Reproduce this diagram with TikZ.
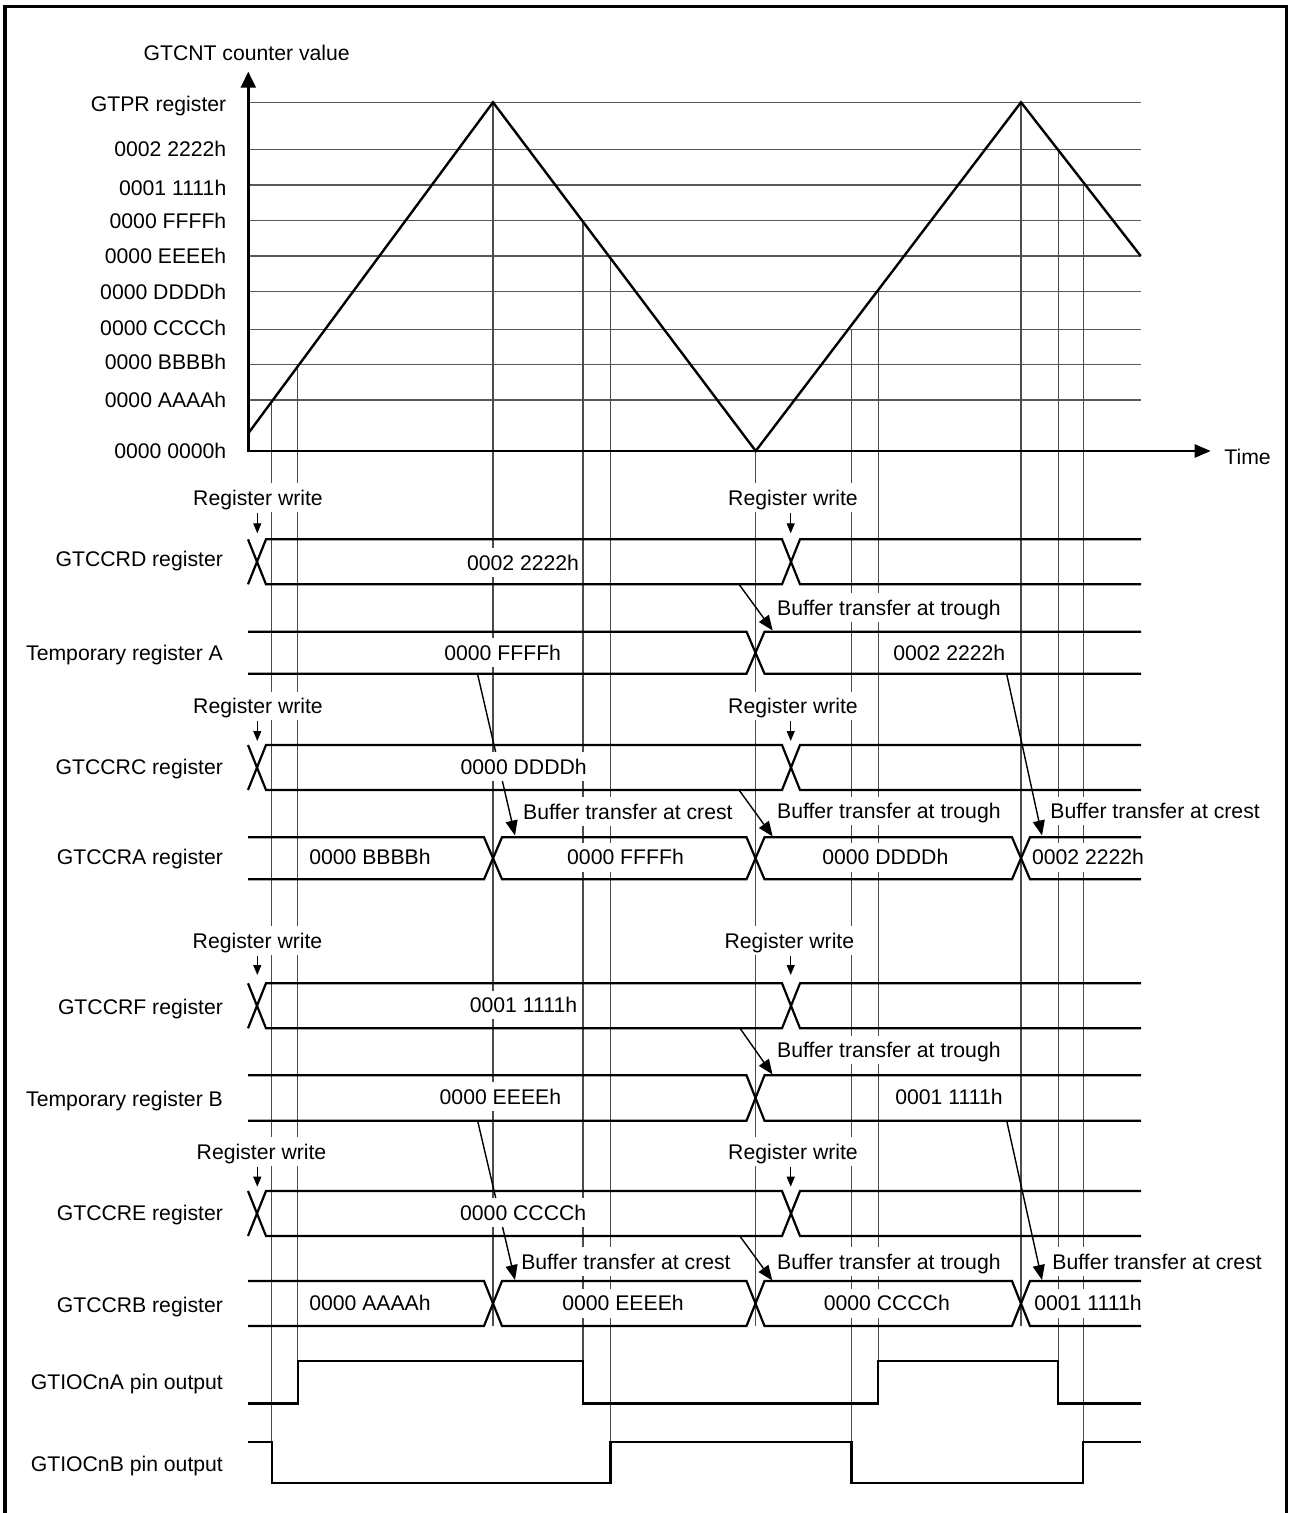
\documentclass[tikz,border=0pt]{standalone}
\usepackage{fontspec}
\setmainfont{Liberation Sans}
\usetikzlibrary{arrows.meta}
\tikzset{
  gridline/.style={line width=0.6pt,black!65},
  guide/.style={line width=0.6pt,black!70},
  wave/.style={line width=1.2pt,black},
  bus/.style={line width=1.1pt,black},
  pinsig/.style={line width=1.1pt,black},
  cntaxis/.style={line width=1.2pt,black},
  xfer/.style={-{Triangle[length=7.5pt,width=6pt]},line width=0.7pt},
  wrarr/.style={-{Triangle[length=5pt,width=4pt]},line width=0.65pt},
  txt/.style={font=\fontsize{10.6}{12.7}\selectfont,text height=9.5pt,text depth=1.9pt,inner sep=1.5pt},
  val/.style={txt,fill=white},
  lbl/.style={txt,anchor=east,inner sep=0pt}
}

\begin{document}
\begin{tikzpicture}[x=0.5pt,y=-0.5pt]
\useasboundingbox (0,0) rectangle (1290,1513);
% frame, open at the bottom
\draw[line width=1.75pt] (5,1513) -- (5,6.7) -- (1286.7,6.7) -- (1286.7,1513);

% counter levels
\foreach \y in {102.3,149.7,185,220.7,256,291.3,329.3,364.7,400}
  \draw[gridline] (248.3,\y) -- (1140.7,\y);
\foreach \y/\t [count=\i] in {104.2/GTPR register,149.2/0002 2222h,188/0001 1111h,
    220.8/0000 FFFFh,255.8/0000 EEEEh,291.8/0000 DDDDh,327.5/0000 CCCCh,
    361.8/0000 BBBBh,400/0000 AAAAh,450.8/0000 0000h}
  \node[lbl] (lv\i) at (226.7,\y) {\t};

% compare match guides
\foreach \x/\ya/\yb in {271.7/400/1483.3,297.7/364.7/1403.5,493/102.3/1326,
    583/220.7/1403.5,610.5/256/1483.3,755.7/451/1326,851.5/329.3/1483.3,
    878.3/291.3/1403.5,1021/102.3/1326,1058.3/149.7/1403.5,1083.3/185/1483.3}
  \draw[guide] (\x,\ya) -- (\x,\yb);

% axes and counter
\draw[cntaxis,{Triangle[length=8pt,width=7.5pt]}-{Triangle[length=8pt,width=6.5pt]}]
  (248.3,71.7) -- (248.3,451) -- (1210.7,451);
\draw[wave] (248.3,433.3) -- (493,102.3) -- (755.7,451) -- (1021,102.3) -- (1140.7,256);
\node[txt] (cntlbl) at (246.7,53.3) {GTCNT counter value};
\node[txt,anchor=west,inner sep=0pt] (timelbl) at (1224,456.7) {Time};

% row names
\foreach \y/\t [count=\i] in {559.3/GTCCRD register,652.7/Temporary register A,
    766.7/GTCCRC register,857.3/GTCCRA register,1007.3/GTCCRF register,
    1099.3/Temporary register B,1212.7/GTCCRE register,1305/GTCCRB register,
    1381.7/GTIOCnA pin output,1464/GTIOCnB pin output}
  \node[lbl] (row\i) at (223.3,\y) {\t};

% buffer transfers
\coordinate (dT) at (739,584.3);      \coordinate (taT) at (772.7,630.5);
\coordinate (taC1) at (477.6,674.3);  \coordinate (aC1) at (515,835.5);
\coordinate (cT) at (739,790);        \coordinate (aT) at (772.7,836.5);
\coordinate (taC2) at (1006.7,674.3); \coordinate (aC2) at (1042,835.5);
\coordinate (fT) at (740,1028.3);     \coordinate (tbT) at (772.5,1074.5);
\coordinate (tbC1) at (477.6,1120.7); \coordinate (bC1) at (515,1280);
\coordinate (eT) at (740.3,1236.7);   \coordinate (bT) at (772.3,1280.5);
\coordinate (tbC2) at (1006.7,1120.7);\coordinate (bC2) at (1042,1280);
\draw[xfer] (dT) -- (taT);
\draw[xfer] (taC1) -- (aC1);
\draw[xfer] (cT) -- (aT);
\draw[xfer] (taC2) -- (aC2);
\draw[xfer] (fT) -- (tbT);
\draw[xfer] (tbC1) -- (bC1);
\draw[xfer] (eT) -- (bT);
\draw[xfer] (tbC2) -- (bC2);

% register values
\node[val] (vD) at (523,562.7) {0002 2222h};
\node[val] (vTA1) at (502.7,652.7) {0000 FFFFh};
\node[val] (vTA2) at (949.3,652.7) {0002 2222h};
\node[val] (vC) at (523.7,766.7) {0000 DDDDh};
\node[val] (vA1) at (370,857.3) {0000 BBBBh};
\node[val] (vA2) at (625.5,857.3) {0000 FFFFh};
\node[val] (vA3) at (885.3,857.3) {0000 DDDDh};
\node[val] (vA4) at (1088,857.3) {0002 2222h};
\node[val] (vF) at (523.5,1005) {0001 1111h};
\node[val] (vTB1) at (500.4,1096.7) {0000 EEEEh};
\node[val] (vTB2) at (949,1096.7) {0001 1111h};
\node[val] (vE) at (523.2,1212.7) {0000 CCCCh};
\node[val] (vB1) at (370,1303.3) {0000 AAAAh};
\node[val] (vB2) at (623,1303.3) {0000 EEEEh};
\node[val] (vB3) at (886.8,1303.3) {0000 CCCCh};
\node[val] (vB4) at (1088,1303.3) {0001 1111h};

% event labels
\node[val] (rw1) at (258,497.7) {Register write};
\node[val] (rw2) at (793,497.7) {Register write};
\node[val] (rw3) at (258,706) {Register write};
\node[val] (rw4) at (793,706) {Register write};
\node[val] (rw5) at (257.5,940.7) {Register write};
\node[val] (rw6) at (789.4,940.7) {Register write};
\node[val] (rw7) at (261.5,1151.7) {Register write};
\node[val] (rw8) at (793,1151.7) {Register write};
\node[val,anchor=west] (bt1) at (773.7,607.7) {Buffer transfer at trough};
\node[val,anchor=west] (bc1) at (519.8,811.7) {Buffer transfer at crest};
\node[val,anchor=west] (bt2) at (773.7,811) {Buffer transfer at trough};
\node[val,anchor=west] (bc2) at (1047,811) {Buffer transfer at crest};
\node[val,anchor=west] (bt3) at (773.7,1050) {Buffer transfer at trough};
\node[val,anchor=west] (bc3) at (517.9,1261.7) {Buffer transfer at crest};
\node[val,anchor=west] (bt4) at (773.7,1261.7) {Buffer transfer at trough};
\node[val,anchor=west] (bc4) at (1049,1261.7) {Buffer transfer at crest};

\coordinate (wD1) at (257.3,533.3);  \coordinate (wD2) at (790.7,533.3);
\coordinate (wC1) at (257.3,741);    \coordinate (wC2) at (790.7,741);
\coordinate (wF1) at (257.3,975);    \coordinate (wF2) at (790.7,975);
\coordinate (wE1) at (257.3,1186.7); \coordinate (wE2) at (790.7,1186.7);
\draw[wrarr] (rw1.south -| wD1) -- (wD1);
\draw[wrarr] (rw2.south -| wD2) -- (wD2);
\draw[wrarr] (rw3.south -| wC1) -- (wC1);
\draw[wrarr] (rw4.south -| wC2) -- (wC2);
\draw[wrarr] (rw5.south -| wF1) -- (wF1);
\draw[wrarr] (rw6.south -| wF2) -- (wF2);
\draw[wrarr] (rw7.south -| wE1) -- (wE1);
\draw[wrarr] (rw8.south -| wE2) -- (wE2);

% buses written by software (GTCCRD, GTCCRC, GTCCRF, GTCCRE)
\foreach \t/\b in {539.3/584.3,745/790,983.3/1028.3,1191/1236} {
  \draw[bus] (248,\t) -- (266,\b) -- (782,\b) -- (800,\t) -- (1141,\t);
  \draw[bus] (248,\b) -- (266,\t) -- (782,\t) -- (800,\b) -- (1141,\b);
}
% temporary registers
\foreach \t/\b in {631.7/673.7,1075.3/1120.7} {
  \draw[bus] (248,\t) -- (746.5,\t) -- (764.5,\b) -- (1141,\b);
  \draw[bus] (248,\b) -- (746.5,\b) -- (764.5,\t) -- (1141,\t);
}
% compare registers (GTCCRA, GTCCRB)
\foreach \t/\b in {837.3/879.3,1281/1326} {
  \draw[bus] (248,\t) -- (484,\t) -- (502,\b) -- (746.5,\b) -- (764.5,\t)
    -- (1012,\t) -- (1030,\b) -- (1141,\b);
  \draw[bus] (248,\b) -- (484,\b) -- (502,\t) -- (746.5,\t) -- (764.5,\b)
    -- (1012,\b) -- (1030,\t) -- (1141,\t);
}

% pin outputs
\draw[pinsig] (248,1403.5) -- (297.7,1403.5) -- (297.7,1361.3) -- (583,1361.3)
  -- (583,1403.5) -- (878.3,1403.5) -- (878.3,1361.3) -- (1058.3,1361.3)
  -- (1058.3,1403.5) -- (1141,1403.5);
\draw[pinsig] (248,1441.7) -- (271.7,1441.7) -- (271.7,1483.3) -- (610.5,1483.3)
  -- (610.5,1441.7) -- (851.5,1441.7) -- (851.5,1483.3) -- (1083.3,1483.3)
  -- (1083.3,1441.7) -- (1141,1441.7);
\end{tikzpicture}
\end{document}
